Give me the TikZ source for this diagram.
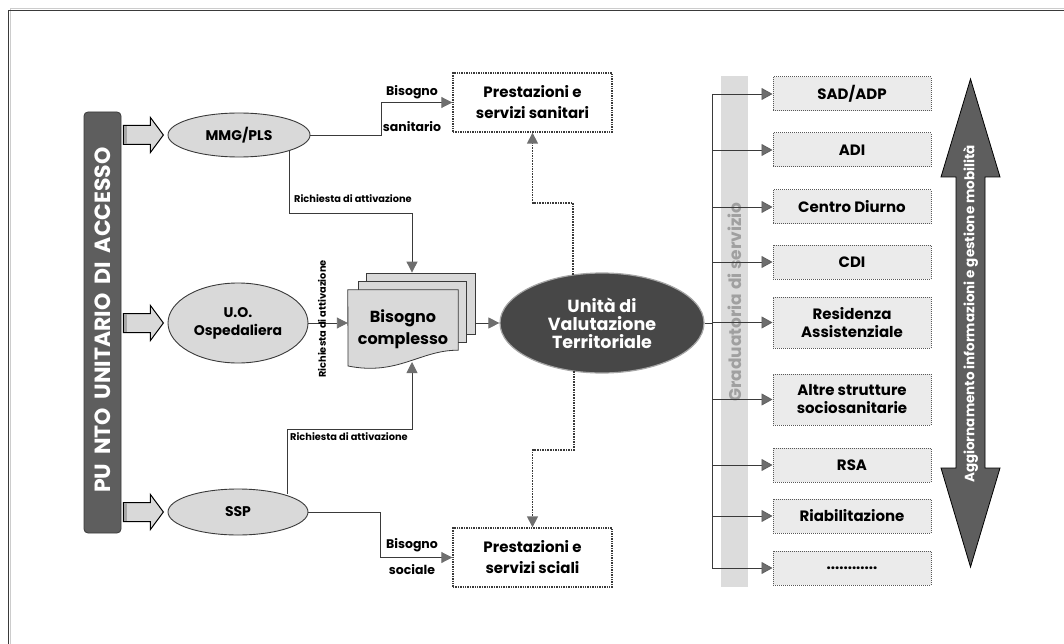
\documentclass[tikz,border=0pt]{standalone}
\usepackage{fontspec}
\setmainfont{Poppins}
\usetikzlibrary{shapes.geometric,arrows.meta,calc}

\definecolor{lightfill}{HTML}{D9D9D9}
\definecolor{boxfill}{HTML}{EBEBEB}
\definecolor{darkfill}{HTML}{474747}
\definecolor{barfill}{HTML}{5E5E5E}
\definecolor{linecol}{HTML}{3A3A3A}
\definecolor{headcol}{HTML}{6E6E6E}
\definecolor{bandfill}{HTML}{DCDCDC}
\definecolor{bandtext}{HTML}{A0A0A0}

\newcommand\wsp{\hspace{0.4em}}

\begin{document}
\begin{tikzpicture}[x=1pt,y=-1pt,
  entry/.style={ellipse, draw=linecol, line width=0.9pt, fill=lightfill, inner sep=0pt,
    font=\bfseries\fontsize{14}{18}\selectfont, align=center},
  outcome/.style={rectangle, draw=linecol, densely dotted, line width=1.4pt, fill=white,
    minimum width=159, minimum height=59, inner sep=0pt, align=center,
    font=\bfseries\fontsize{15}{21}\selectfont},
  service/.style={rectangle, draw=linecol!85, densely dotted, line width=1pt, fill=boxfill,
    minimum width=158, inner sep=0pt, align=center, font=\bfseries\fontsize{15}{18}\selectfont},
  page/.style={rectangle, draw=linecol, line width=0.8pt, fill=lightfill, inner sep=0pt},
  conn/.style={draw=linecol, line width=0.9pt},
  dconn/.style={draw=linecol, densely dotted, line width=1.6pt},
  tip/.style={-{Triangle[length=11pt,width=11pt,color=headcol,fill=headcol]}},
  flowlabel/.style={font=\bfseries\fontsize{9.8}{11}\selectfont, inner sep=0pt},
  needlabel/.style={font=\bfseries\fontsize{12.5}{14}\selectfont, inner sep=0pt},
  barrow/.style={draw=black, line width=1pt, fill=lightfill, line join=miter},
]
\useasboundingbox (0,0) rectangle (1064,644);

% outer frame
\draw[gray!40, line width=1pt] (10,644) -- (10,9) -- (1064,9);
\draw[linecol, line width=1.3pt] (8.5,644) -- (8.5,10.5) -- (1064,10.5);

% access bar on the left
\node[rectangle, rounded corners=4pt, fill=barfill, draw=linecol, line width=0.8pt,
  minimum width=37, minimum height=421, inner sep=0pt] (bar) at (102.5,322.5) {};
\node[rotate=90, text=white, font=\bfseries\fontsize{22}{22}\selectfont] (barlabel)
  at (102.5,320) {PU\wsp NTO\wsp UNITARIO\wsp DI\wsp ACCESSO};

% entry points
\node[entry, minimum width=142, minimum height=44] (mmg) at (239,135) {MMG/PLS};
\node[entry, minimum width=140, minimum height=80] (uo) at (238,323) {U.O.\\Ospedaliera};
\node[entry, minimum width=140, minimum height=46] (ssp) at (238,512) {SSP};

% fat arrows from the bar to each entry point
\foreach \n in {mmg,uo,ssp}{
  \draw[barrow, shift={(bar.east |- \n.west)}]
    (2,-9.5) -- (29,-9.5) -- (29,-17.5) -- (42,0) -- (29,17.5) -- (29,9.5) -- (2,9.5) -- cycle;
  \fill[gray!70, shift={(bar.east |- \n.west)}] (2.5,-9) rectangle (6,9);
}

% outcome boxes
\node[outcome] (sanit) at (532.5,102.5) {Prestazioni e\\servizi sanitari};
\node[outcome] (social) at (532.5,557.5) {Prestazioni e\\servizi sciali};

% stacked document: complex need
\node[page, minimum width=109, minimum height=61] (page3) at (420.5,303.5) {};
\node[page, minimum width=108, minimum height=61] (page2) at (412,311.5) {};
\node[rectangle, minimum width=110, minimum height=60, inner sep=0pt] (doc) at (403,320) {};
\draw[linecol, line width=0.8pt, fill=lightfill]
  (doc.north west) -- (doc.north east) -- (doc.south east)
  .. controls (420,350) and (398,376) .. (348,366) -- cycle;
\node[font=\bfseries\fontsize{16}{22}\selectfont, align=center] (doclabel) at (403,329)
  {Bisogno\\complesso};
\coordinate (docB) at (412,362);

% territorial evaluation unit
\node[ellipse, fill=darkfill, draw=gray!70, line width=1.2pt, minimum width=204,
  minimum height=100, inner sep=0pt, text=white, align=center,
  font=\bfseries\fontsize{17.5}{18}\selectfont] (uvt) at (602,323)
  {Unità di\\Valutazione\\Territoriale};

% connectors among entry points, needs and outcomes
\draw[conn,tip] (mmg.east) -| ($(mmg.east)!0.5!(sanit.west)$) |- (sanit.west);
\node[needlabel] (nl1) at (412,92) {Bisogno};
\node[needlabel] (nl2) at (412,127) {sanitario};

\draw[conn,tip] (ssp.east) -| ($(ssp.east)!0.5!(social.west)$) |- (social.west);
\node[needlabel] (nl3) at (412,545) {Bisogno};
\node[needlabel] (nl4) at (412,570) {sociale};

\draw[conn,tip] ($(mmg.center)+(50,15.5)$) -- ++(0,62.5) -| ($(page3.north)+(-8.5,0)$);
\node[flowlabel, anchor=west] (rl1) at (294,199) {Richiesta di attivazione};

\draw[conn,tip] ($(ssp.center)+(49,-18)$) -- ++(0,-65) -| (docB);
\node[flowlabel, anchor=west] (rl2) at (290,437) {Richiesta di attivazione};

\draw[conn,tip] (uo.east) -- (doc.west |- uo.east);
\node[flowlabel, rotate=90] (rl3) at (322,319) {Richiesta di attivazione};

\draw[conn,tip] (page3.east |- uvt.west) -- (uvt.west);

\draw[dconn,tip] ($(uvt.center)+(-29,-48)$) -- ++(0,-72) -| (sanit.south);
\draw[dconn,tip] ($(uvt.center)+(-28,48)$) -- ++(0,79) -| (social.north);

% ranking band
\node[rectangle, fill=bandfill, minimum width=27, minimum height=511, inner sep=0pt]
  (band) at (734.5,331.5) {};
\node[rotate=90, text=bandtext, font=\bfseries\fontsize{17}{17}\selectfont] (bandlabel)
  at (735,302) {Graduatoria di servizio};

% services
\node[service, minimum height=34] (s1) at (852,94) {SAD/ADP};
\node[service, minimum height=34] (s2) at (852,150) {ADI};
\node[service, minimum height=34] (s3) at (852,207) {Centro Diurno};
\node[service, minimum height=34] (s4) at (852,262) {CDI};
\node[service, minimum height=51] (s5) at (852,322.5) {Residenza\\Assistenziale};
\node[service, minimum height=51] (s6) at (852,399.5) {Altre strutture\\sociosanitarie};
\node[service, minimum height=34] (s7) at (852,465) {RSA};
\node[service, minimum height=34] (s8) at (852,516) {Riabilitazione};
\node[service, minimum height=34] (s9) at (852,568) {............};

\coordinate (tx) at (712,323);
\draw[conn] (uvt.east) -- (tx);
\draw[conn] (s1.west -| tx) -- (s9.west -| tx);
\foreach \s in {s1,s2,s3,s4,s5,s6,s7,s8,s9}{
  \draw[conn,-{Triangle[length=11pt,width=12pt,color=linecol!80,fill=headcol]}] (\s.west -| tx) -- (\s.west);
}

% two-way update arrow
\draw[fill=barfill, draw=black, line width=0.8pt, line join=miter]
  (970.5,79) -- (1000,177) -- (985,177) -- (985,468) -- (1000,468) -- (970.5,567)
  -- (941,468) -- (956,468) -- (956,177) -- (941,177) -- cycle;
\node[rotate=90, text=white, font=\bfseries\fontsize{13.5}{13.5}\selectfont] (updlabel)
  at (970.5,314) {Aggiornamento informazioni e gestione mobilità};
\end{tikzpicture}
\end{document}
